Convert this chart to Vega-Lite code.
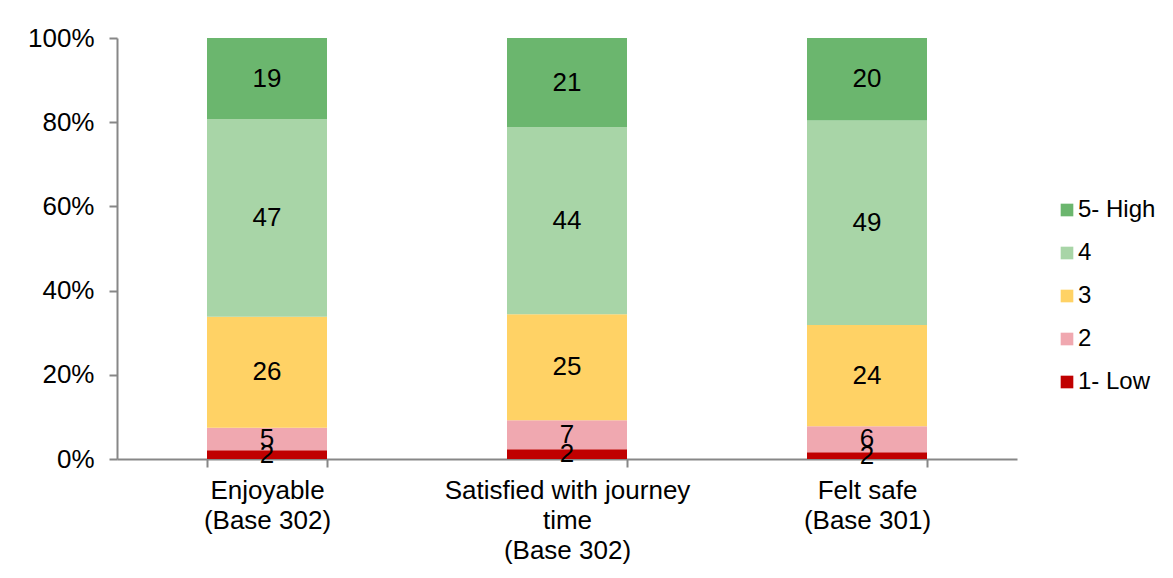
{
  "$schema": "https://vega.github.io/schema/vega-lite/v6.json",
  "autosize": "none",
  "width": 900,
  "height": 421,
  "padding": {"left": 117, "top": 38, "right": 156, "bottom": 119},
  "background": "white",
  "config": {
    "view": {"stroke": null},
    "font": "Liberation Sans",
    "text": {"font": "Liberation Sans"}
  },
  "data": {
    "values": [
      {"q": "Enjoyable|(Base 302)", "level": "1- Low", "rank": 1, "value": 2.1},
      {"q": "Enjoyable|(Base 302)", "level": "2", "rank": 2, "value": 5.3},
      {"q": "Enjoyable|(Base 302)", "level": "3", "rank": 3, "value": 26.4},
      {"q": "Enjoyable|(Base 302)", "level": "4", "rank": 4, "value": 46.9},
      {"q": "Enjoyable|(Base 302)", "level": "5- High", "rank": 5, "value": 19.3},
      {"q": "Satisfied with journey|time|(Base 302)", "level": "1- Low", "rank": 1, "value": 2.3},
      {"q": "Satisfied with journey|time|(Base 302)", "level": "2", "rank": 2, "value": 6.9},
      {"q": "Satisfied with journey|time|(Base 302)", "level": "3", "rank": 3, "value": 25.2},
      {"q": "Satisfied with journey|time|(Base 302)", "level": "4", "rank": 4, "value": 44.4},
      {"q": "Satisfied with journey|time|(Base 302)", "level": "5- High", "rank": 5, "value": 21.2},
      {"q": "Felt safe|(Base 301)", "level": "1- Low", "rank": 1, "value": 1.6},
      {"q": "Felt safe|(Base 301)", "level": "2", "rank": 2, "value": 6.2},
      {"q": "Felt safe|(Base 301)", "level": "3", "rank": 3, "value": 24.0},
      {"q": "Felt safe|(Base 301)", "level": "4", "rank": 4, "value": 48.6},
      {"q": "Felt safe|(Base 301)", "level": "5- High", "rank": 5, "value": 19.6}
    ]
  },
  "encoding": {
    "x": {
      "field": "q",
      "type": "nominal",
      "sort": ["Enjoyable|(Base 302)", "Satisfied with journey|time|(Base 302)", "Felt safe|(Base 301)"],
      "scale": {"paddingInner": 0.6, "paddingOuter": 0.3},
      "axis": {
        "title": null,
        "labelAngle": 0,
        "labelExpr": "split(datum.label, '|')",
        "labelFont": "Liberation Sans",
        "labelFontSize": 26,
        "labelLineHeight": 30,
        "labelLimit": 0,
        "labelColor": "#000000",
        "labelPadding": 10,
        "tickBand": "extent",
        "tickSize": 8,
        "tickWidth": 2,
        "tickColor": "#878787",
        "domainColor": "#878787",
        "domainWidth": 2,
        "grid": false
      }
    }
  },
  "layer": [
    {
      "mark": {"type": "bar"},
      "encoding": {
        "y": {
          "field": "value",
          "type": "quantitative",
          "stack": "normalize",
          "scale": {"domain": [0, 1]},
          "axis": {
            "title": null,
            "values": [0, 0.2, 0.4, 0.6, 0.8, 1],
            "format": ".0%",
            "labelFont": "Liberation Sans",
            "labelFontSize": 26,
            "labelColor": "#000000",
            "labelPadding": 15,
            "tickSize": 8,
            "tickWidth": 2,
            "tickColor": "#878787",
            "domainColor": "#878787",
            "domainWidth": 2,
            "grid": false
          }
        },
        "order": {"field": "rank", "type": "quantitative", "sort": "ascending"},
        "color": {
          "field": "level",
          "type": "nominal",
          "scale": {
            "domain": ["5- High", "4", "3", "2", "1- Low"],
            "range": ["#6BB66E", "#A8D5A7", "#FFD265", "#F0A8B0", "#C00000"]
          },
          "legend": {
            "title": null,
            "orient": "none",
            "legendX": 938,
            "legendY": 160,
            "padding": 0,
            "symbolType": "square",
            "symbolSize": 160,
            "symbolStrokeWidth": 0,
            "labelFont": "Liberation Sans",
            "labelFontSize": 24,
            "labelColor": "#000000",
            "labelOffset": -1,
            "rowPadding": 19
          }
        }
      }
    },
    {
      "mark": {"type": "text", "baseline": "middle", "align": "center", "fontSize": 26, "color": "#000000", "font": "Liberation Sans"},
      "encoding": {
        "y": {"field": "value", "type": "quantitative", "stack": "normalize", "bandPosition": 0.5},
        "order": {"field": "rank", "type": "quantitative", "sort": "ascending"},
        "detail": {"field": "level"},
        "text": {"field": "value", "type": "quantitative", "format": ".0f"}
      }
    }
  ]
}
